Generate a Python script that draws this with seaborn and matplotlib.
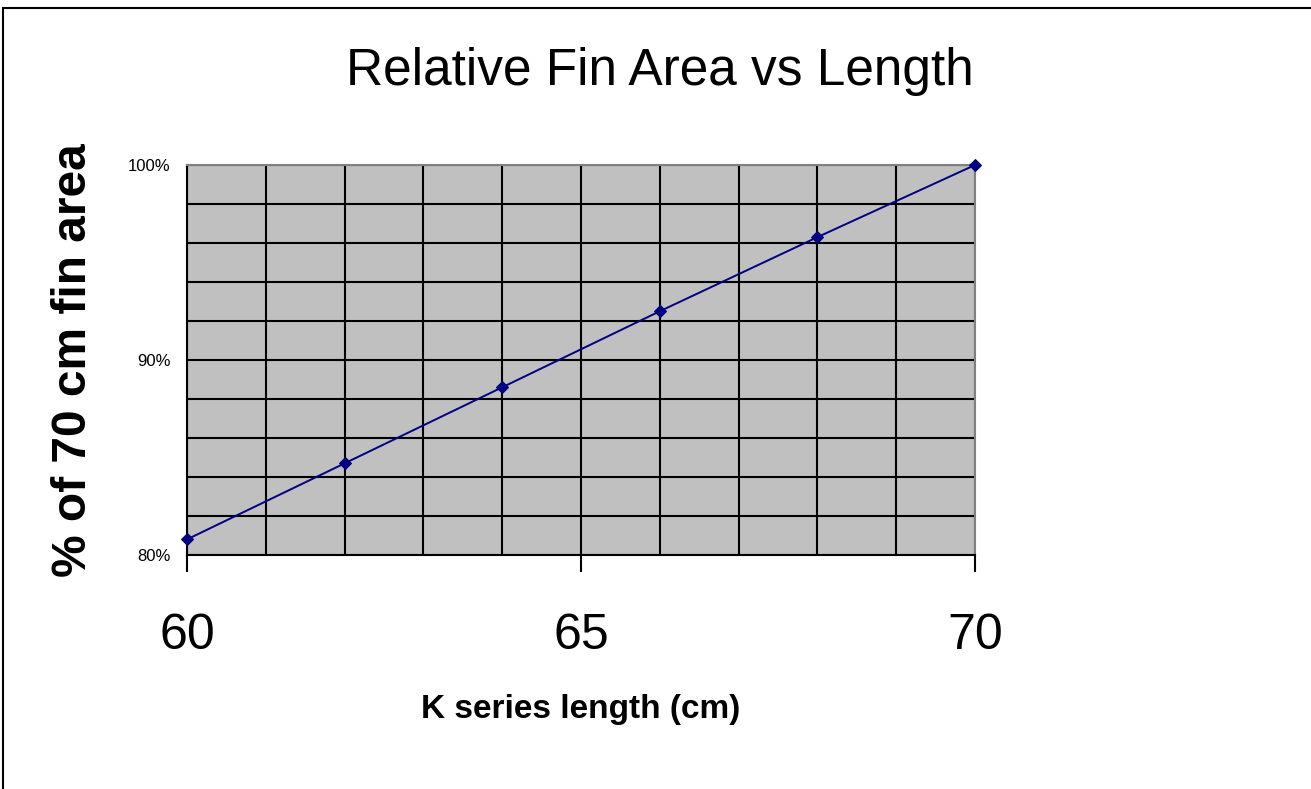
import matplotlib
matplotlib.use("Agg")
import matplotlib.pyplot as plt
import seaborn as sns
import pandas as pd
from matplotlib.ticker import PercentFormatter, MultipleLocator, FixedLocator
from matplotlib.patches import Rectangle

# Data
lengths = [60, 62, 64, 66, 68, 70]
rel_area = [0.808, 0.847, 0.886, 0.925, 0.963, 1.000]
x_ticks = [60, 65, 70]
y_ticks = [0.80, 0.90, 1.00]

title = "Relative Fin Area vs Length"
x_label = "K series length (cm)"
y_label = "% of 70 cm fin area"

df = pd.DataFrame({"length": lengths, "area": rel_area})

sns.set_style("white")
plt.rcParams["font.family"] = ["Liberation Sans", "DejaVu Sans"]
plt.rcParams["text.color"] = "black"
plt.rcParams["axes.labelcolor"] = "black"
plt.rcParams["xtick.color"] = "black"
plt.rcParams["ytick.color"] = "black"

fig = plt.figure(figsize=(13.11, 7.89), dpi=100)
ax = fig.add_axes([187 / 1311, 1 - 555 / 789, (975 - 187) / 1311, (555 - 165) / 789])
ax.set_facecolor("#C0C0C0")

sns.lineplot(data=df, x="length", y="area", ax=ax, color="#000080", lw=1.4,
             marker="D", markersize=6.5, markeredgecolor="#000080", clip_on=False, zorder=5)

ax.set_xlim(60, 70)
ax.set_ylim(0.80, 1.00)
ax.xaxis.set_major_locator(FixedLocator(x_ticks))
ax.xaxis.set_minor_locator(MultipleLocator(1))
ax.yaxis.set_major_locator(FixedLocator(y_ticks))
ax.yaxis.set_minor_locator(MultipleLocator(0.02))
ax.yaxis.set_major_formatter(PercentFormatter(1.0, decimals=0))

ax.set_axisbelow(True)
ax.grid(which="both", color="black", lw=1.5)

for s in ["top", "right"]:
    ax.spines[s].set_color("#808080")
    ax.spines[s].set_linewidth(1.5)
for s in ["left", "bottom"]:
    ax.spines[s].set_color("black")
    ax.spines[s].set_linewidth(1.5)

ax.tick_params(axis="x", which="major", direction="out", length=12, width=1.5,
               color="black", labelcolor="black", labelsize=36, pad=30, bottom=True)
ax.tick_params(axis="x", which="minor", length=0)
ax.tick_params(axis="y", which="both", length=0, labelsize=12, pad=12, labelcolor="black")

ax.set_xlabel(x_label, fontsize=24, fontweight="bold", labelpad=25, color="black")
ax.set_ylabel(y_label, fontsize=34.5, fontweight="bold", labelpad=23, color="black")
fig.text(660 / 1311, 1 - 72 / 789, title, fontsize=37, ha="center", va="center",
         color="black")

fig.patches.append(Rectangle((3 / 1311, -0.1), 1.2, 1.1 - 8 / 789,
                             transform=fig.transFigure, fill=False,
                             edgecolor="black", lw=1.5))

fig.savefig("out.png", dpi=100)
